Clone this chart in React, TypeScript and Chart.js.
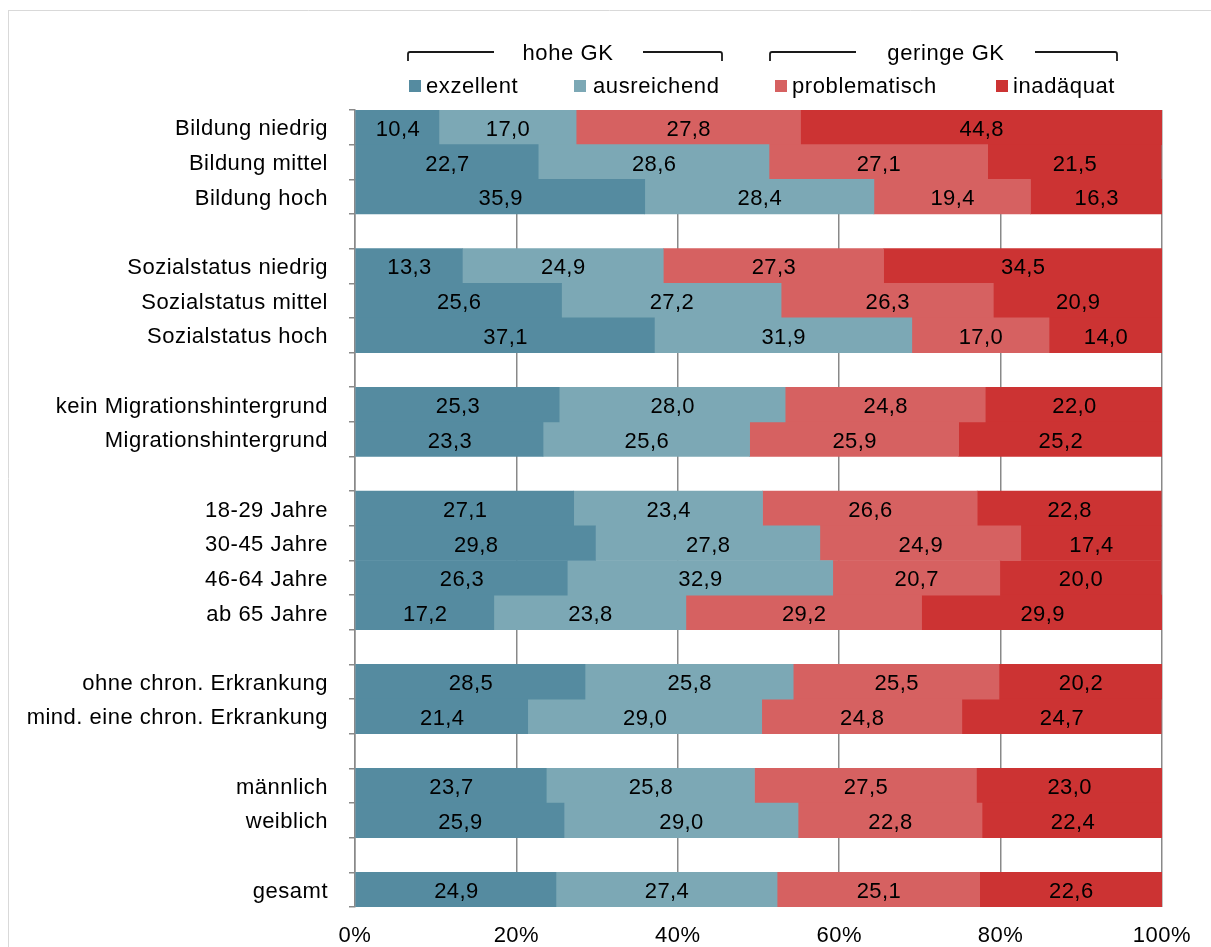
import React, { useEffect, useRef } from 'react';
import { Chart, registerables } from 'chart.js';

Chart.register(...registerables);

const categories = [
  'Bildung niedrig', 'Bildung mittel', 'Bildung hoch', '',
  'Sozialstatus niedrig', 'Sozialstatus mittel', 'Sozialstatus hoch', '',
  'kein Migrationshintergrund', 'Migrationshintergrund', '',
  '18-29 Jahre', '30-45 Jahre', '46-64 Jahre', 'ab 65 Jahre', '',
  'ohne chron. Erkrankung', 'mind. eine chron. Erkrankung', '',
  'männlich', 'weiblich', '',
  'gesamt',
];

const exzellent = [10.4, 22.7, 35.9, null, 13.3, 25.6, 37.1, null, 25.3, 23.3, null, 27.1, 29.8, 26.3, 17.2, null, 28.5, 21.4, null, 23.7, 25.9, null, 24.9];
const ausreichend = [17.0, 28.6, 28.4, null, 24.9, 27.2, 31.9, null, 28.0, 25.6, null, 23.4, 27.8, 32.9, 23.8, null, 25.8, 29.0, null, 25.8, 29.0, null, 27.4];
const problematisch = [27.8, 27.1, 19.4, null, 27.3, 26.3, 17.0, null, 24.8, 25.9, null, 26.6, 24.9, 20.7, 29.2, null, 25.5, 24.8, null, 27.5, 22.8, null, 25.1];
const inadaequat = [44.8, 21.5, 16.3, null, 34.5, 20.9, 14.0, null, 22.0, 25.2, null, 22.8, 17.4, 20.0, 29.9, null, 20.2, 24.7, null, 23.0, 22.4, null, 22.6];

const seriesNames = ['exzellent', 'ausreichend', 'problematisch', 'inadäquat'];
const seriesColors = ['#558ba0', '#7ca8b5', '#d66161', '#cc3333'];
const groupLabels = ['hohe GK', 'geringe GK'];
const xTickValues = [0, 20, 40, 60, 80, 100];

const FONT = '"Liberation Sans", Arial, sans-serif';
const GRAY = '#898989';
const TEXT = '#000';

const spacingPlugin = {
  id: 'spacing',
  beforeDraw(chart: any) {
    chart.ctx.letterSpacing = '0.5px';
  },
};

const valueLabels = {
  id: 'valueLabels',
  afterDatasetsDraw(chart: any) {
    const ctx = chart.ctx;
    ctx.save();
    ctx.font = `22px ${FONT}`;
    ctx.letterSpacing = '0.4px';
    ctx.fillStyle = TEXT;
    ctx.textAlign = 'center';
    ctx.textBaseline = 'middle';
    chart.data.datasets.forEach((ds: any, i: number) => {
      const meta = chart.getDatasetMeta(i);
      meta.data.forEach((el: any, j: number) => {
        const v = ds.data[j];
        if (v == null) return;
        const { x, y, base } = el.getProps(['x', 'y', 'base'], true);
        ctx.fillText(v.toFixed(1).replace('.', ','), (x + base) / 2 + 0.5, y + 2.5);
      });
    });
    ctx.restore();
  },
};

const customLegend = {
  id: 'customLegend',
  afterDraw(chart: any) {
    const ctx = chart.ctx;
    ctx.save();
    // frame
    ctx.strokeStyle = '#d9d9d9';
    ctx.lineWidth = 1;
    ctx.beginPath();
    ctx.moveTo(8, 10.5);
    ctx.lineTo(1211, 10.5);
    ctx.moveTo(8.5, 10);
    ctx.lineTo(8.5, 947);
    ctx.stroke();

    // brackets
    ctx.strokeStyle = '#1a1a1a';
    ctx.lineWidth = 1.8;
    const by = 52;
    const tick = 9;
    const brackets = [
      { l1: 408, l2: 494, r1: 643, r2: 722, tx: 568 },
      { l1: 770, l2: 856, r1: 1035, r2: 1117, tx: 946 },
    ];
    brackets.forEach((b) => {
      ctx.beginPath();
      ctx.moveTo(b.l1, by + tick);
      ctx.lineTo(b.l1, by + 2);
      ctx.quadraticCurveTo(b.l1, by, b.l1 + 2, by);
      ctx.lineTo(b.l2, by);
      ctx.moveTo(b.r1, by);
      ctx.lineTo(b.r2 - 2, by);
      ctx.quadraticCurveTo(b.r2, by, b.r2, by + 2);
      ctx.lineTo(b.r2, by + tick);
      ctx.stroke();
    });
    ctx.font = `22px ${FONT}`;
    ctx.letterSpacing = '0.6px';
    ctx.fillStyle = TEXT;
    ctx.textBaseline = 'middle';
    ctx.textAlign = 'center';
    brackets.forEach((b, i) => {
      ctx.fillText(groupLabels[i], b.tx, by + 2);
    });

    // legend items
    const items = [
      { sx: 409, tx: 426 },
      { sx: 574, tx: 593 },
      { sx: 775, tx: 792 },
      { sx: 996, tx: 1013 },
    ];
    ctx.textAlign = 'left';
    items.forEach((it, i) => {
      ctx.fillStyle = seriesColors[i];
      ctx.fillRect(it.sx, 80, 12, 12);
      ctx.fillStyle = TEXT;
      ctx.fillText(seriesNames[i], it.tx, 87);
    });
    ctx.restore();
  },
};

export default function App() {
  const ref = useRef<HTMLCanvasElement | null>(null);

  useEffect(() => {
    if (!ref.current) return;
    Chart.defaults.font.family = FONT;
    const seriesData = [exzellent, ausreichend, problematisch, inadaequat];
    const chart = new Chart(ref.current, {
      type: 'bar',
      data: {
        labels: categories,
        datasets: seriesData.map((d, i) => ({
          label: seriesNames[i],
          data: d,
          backgroundColor: seriesColors[i],
          borderWidth: 0,
          barPercentage: 1,
          categoryPercentage: 1,
        })),
      },
      options: {
        indexAxis: 'y',
        responsive: false,
        animation: false,
        layout: { padding: { top: 110, right: 49, left: 0, bottom: 0 } },
        plugins: {
          legend: { display: false },
          tooltip: { enabled: false },
        },
        scales: {
          x: {
            stacked: true,
            min: 0,
            max: 100,
            afterBuildTicks: (scale: any) => {
              scale.ticks = xTickValues.map((v) => ({ value: v }));
            },
            afterFit: (scale: any) => {
              scale.height = 40;
            },
            ticks: {
              color: TEXT,
              font: { size: 22, family: FONT },
              padding: 16,
              callback: (v: any) => `${v}%`,
              maxRotation: 0,
            },
            grid: {
              color: GRAY,
              lineWidth: 1.5,
              drawTicks: false,
            },
            border: { display: false },
          },
          y: {
            stacked: true,
            afterFit: (scale: any) => {
              scale.width = 355;
            },
            ticks: {
              color: TEXT,
              font: { size: 22, family: FONT },
              padding: 21,
              labelOffset: 2,
              autoSkip: false,
            },
            grid: {
              offset: true,
              drawOnChartArea: false,
              drawTicks: true,
              tickLength: 6,
              color: GRAY,
              lineWidth: 1.5,
            },
            border: { display: true, color: GRAY, width: 1.5 },
          },
        },
      },
      plugins: [spacingPlugin, valueLabels, customLegend],
    });
    return () => chart.destroy();
  }, []);

  return (
    <div style={{ position: 'absolute', left: 0, top: 0, width: 1211, height: 947, background: '#fff' }}>
      <canvas ref={ref} width={1211} height={947} style={{ display: 'block' }} />
    </div>
  );
}
